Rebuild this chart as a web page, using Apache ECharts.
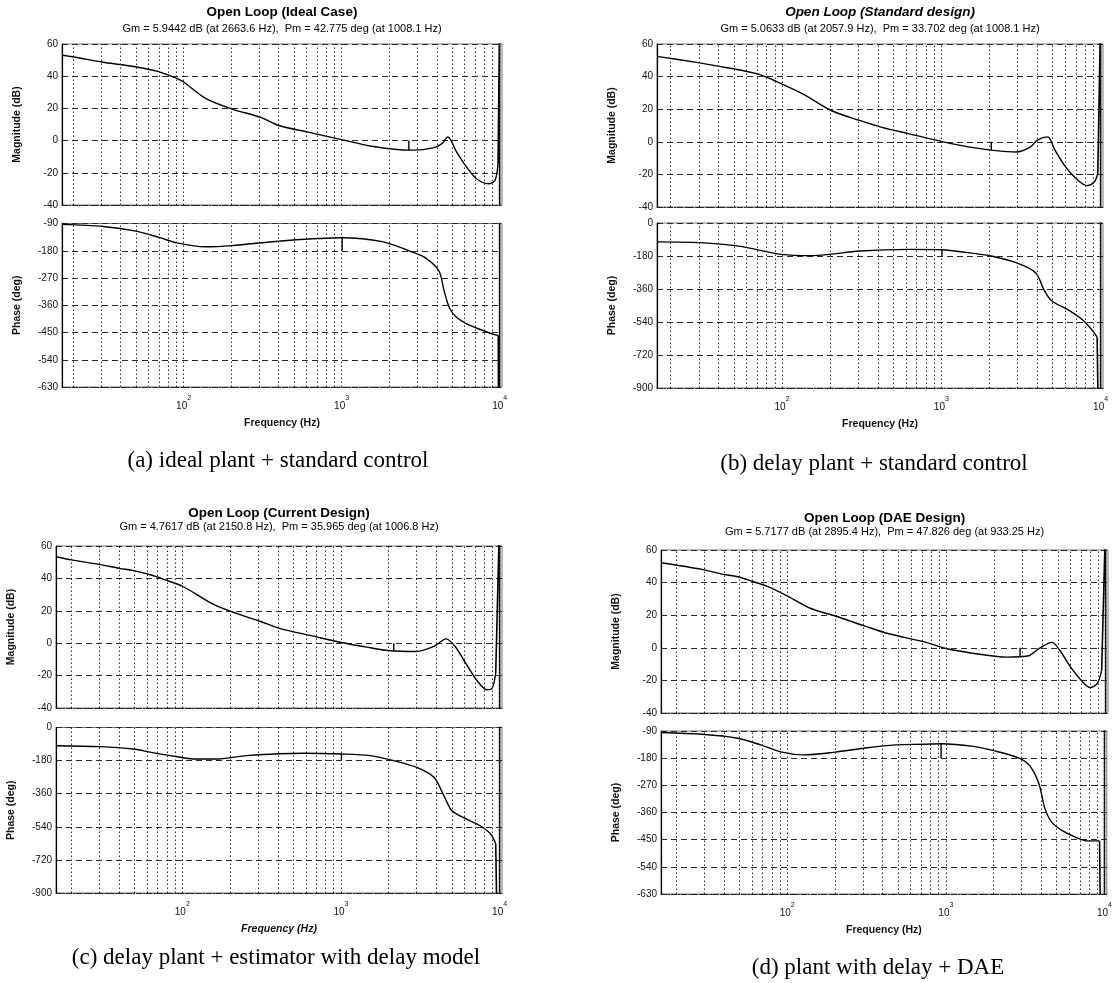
<!DOCTYPE html>
<html><head><meta charset="utf-8">
<script src="https://cdn.jsdelivr.net/npm/echarts@6/dist/echarts.min.js"></script>
<style>html,body{margin:0;padding:0;background:#fff}#c{width:1115px;height:983px}</style>
</head><body><div id="c"></div>
<script>
// ---------- DATA ----------
const gridFreqs = [20,30,40,50,60,70,80,90,100,200,300,400,500,600,700,800,900,1000,2000,3000,4000,5000,6000,7000,8000,9000,10000];

// (a) Ideal Case
const aMagFreq = [17,20.5,30.9,41,50.4,68.7,78.1,91.1,100,137.6,202.5,305.9,406,613,1000,1549,2339,2838,3800,4297,4700,5345,6180,7140,8465,9340,9770,10000,10000];
const aMagDb   = [53,51.8,48.7,47.1,45.7,43,41.1,38.5,36.4,26.2,19.6,14.5,9.2,5.3,0.6,-3.5,-5.7,-5.9,-4.5,-2.0,2.2,-7.2,-16.5,-23.7,-26.8,-24.8,-14.4,80,-80];
const aPhFreq  = [17,31,50,70,91,137,202,428,1000,1808,2730,3357,4122,4456,4810,5333,6223,8474,9398,9800,10000,10000];
const aPhDeg   = [-93,-100,-115,-136,-154,-167,-163,-147,-137,-150,-182,-202,-246,-313,-368,-400,-422,-450,-458,-460,-2000,100];

// (b) Standard design
const bMagFreq = [16.4,30.4,41.3,59.2,72.7,89.3,134.7,203,307,418,630,1000,1510,2054,2944,3615,4008,4650,5176,6040,7230,8225,9120,9600,10000,10000];
const bMagDb   = [52.4,48.4,46.1,43.3,41.2,37.6,29.4,19.2,13.1,9,4.9,0.3,-3.3,-5.1,-6.3,-3.3,1.0,3.0,-5.3,-15.5,-23.7,-26.9,-24.7,-19.6,80,-80];
const bPhFreq  = [16.4,30.4,53.5,99,157,307,630,1000,1761,2054,2944,3906,4440,4920,6365,7815,8890,9510,10000,10000];
const bPhDeg   = [-103,-107,-126,-171,-178,-153,-144,-146,-171,-180,-216,-271,-370,-424,-478,-533,-587,-623,-2000,100];

// (c) Current Design
const cMagFreq = [16,20.1,30.3,40.1,49.3,63.7,78.2,101,152.3,201.9,312,425,640,1005,1531,1977,2980,3853,4600,5240,6110,7130,8310,8980,9450,10000,10000];
const cMagDb   = [53.4,51.4,48.5,46.2,44.8,42.1,39.1,35,24.7,19.6,13.4,8.7,4.8,0.4,-2.8,-4.5,-5.1,-2,2.7,-2,-12.3,-22.5,-28.7,-27.7,-18.4,80,-80];
const cPhFreq  = [16,30.3,49.3,63.7,91.2,117.8,168.6,254,577,1005,1531,2150,2980,3853,4497,4980,6110,7500,8750,9450,10000,10000];
const cPhDeg   = [-99,-104,-117,-135,-158,-171,-171,-153,-140,-144,-153,-180,-216,-271,-379,-451,-496,-533,-578,-632,-2000,100];

// (d) DAE Design
const dMagFreq = [16,29,38.6,48.6,61.3,75.3,100,140,200,246,303,434,726,990,1656,2376,3236,3874,4600,5145,6010,7014,7980,8840,9445,10000,10000];
const dMagDb   = [52.2,48.1,45.2,43.6,40.5,37.5,31.7,24.1,19.5,16.5,13.5,8.6,3.6,-0.4,-4.1,-5.7,-5,0,3.3,-1.5,-11.7,-19.9,-24.4,-22,-13.8,80,-80];
const dPhFreq  = [16,29,48.6,68,92.6,126,200,303,481,726,933,1494,2036,2895,3405,3874,4188,4640,5420,6655,7770,9310,10000,10000];
const dPhDeg   = [-95,-101,-114,-136,-160,-169,-160,-147,-136,-134,-132,-141,-156,-180,-207,-267,-343,-392,-420,-443,-454,-454,-2000,100];

const titles    = ['Open Loop (Ideal Case)','Open Loop (Standard design)','Open Loop (Current Design)','Open Loop (DAE Design)'];
const gmDb      = ['5.9442','5.0633','4.7617','5.7177'];
const gmHz      = ['2663.6','2057.9','2150.8','2895.4'];
const pmDeg     = ['42.775','33.702','35.965','47.826'];
const pmHz      = ['1008.1','1008.1','1006.8','933.25'];
const captions  = ['(a) ideal plant + standard control','(b) delay plant + standard control','(c) delay plant + estimator with delay model','(d) plant with delay + DAE'];
const phaseMin  = [-630,-900,-900,-630];
const phaseMax  = [-90,0,0,-90];
const phaseStep = [90,180,180,90];
const magMin = -40, magMax = 60, magStep = 20;
const freqMin = [17,16.4,16,16];
const freqMax = 10350;

// ---------- LAYOUT ----------
const layout = [
  {left:62, width:440, magTop:44, magH:161, phTop:223.5, phH:163.5, titleY:12, subY:29, capX:278, capY:461, italicTitle:false, italicX:false},
  {left:657,width:446, magTop:44, magH:163, phTop:223, phH:165, titleY:12, subY:29, capX:874, capY:464, italicTitle:true, italicX:false},
  {left:56, width:446, magTop:546,magH:162, phTop:727.5, phH:165.5, titleY:513, subY:527, capX:276, capY:958, italicTitle:false, italicX:true},
  {left:661,width:447, magTop:550,magH:163, phTop:731, phH:163, titleY:518, subY:532, capX:878, capY:968, italicTitle:false, italicX:false}
];
const mags = [[aMagFreq,aMagDb],[bMagFreq,bMagDb],[cMagFreq,cMagDb],[dMagFreq,dMagDb]];
const phs  = [[aPhFreq,aPhDeg],[bPhFreq,bPhDeg],[cPhFreq,cPhDeg],[dPhFreq,dPhDeg]];

const FONT = '"Liberation Sans", Arial, sans-serif';
const zip = (x,y) => x.map((v,i)=>[v,y[i]]);
const grids=[], xAxes=[], yAxes=[], series=[], graphics=[];

const vLines = {
  silent:true, symbol:['none','none'], animation:false, label:{show:false},
  lineStyle:{color:'#2a2a2a', width:1, type:[1.5,2.5]},
  data: gridFreqs.map(f=>({xAxis:f}))
};
const xlabelFmt = v => { const l=Math.log10(v), r=Math.round(l); return Math.abs(l-r)<1e-6 ? '{b|10}{s|'+r+'}' : ''; };

layout.forEach((L,p)=>{
  const subs = [
    {top:L.magTop, h:L.magH, min:magMin, max:magMax, step:magStep, name:'Magnitude (dB)', data:zip(mags[p][0],mags[p][1]), isPh:false},
    {top:L.phTop, h:L.phH, min:phaseMin[p], max:phaseMax[p], step:phaseStep[p], name:'Phase (deg)', data:zip(phs[p][0],phs[p][1]), isPh:true}
  ];
  subs.forEach(s=>{
    const gi = grids.length;
    grids.push({left:L.left, top:s.top, width:L.width, height:s.h, show:true, borderColor:'#777', borderWidth:1, containLabel:false});
    xAxes.push({
      type:'log', logBase:10, gridIndex:gi, min:freqMin[p], max:freqMax,
      splitLine:{show:false}, axisTick:{show:false}, minorTick:{show:false},
      axisLine:{show:true, onZero:false, lineStyle:{color:'#222', width:1, type:[1.5,2]}},
      axisLabel:{show:s.isPh, formatter:xlabelFmt, margin:8, showMinLabel:false, showMaxLabel:false,
        rich:{b:{fontSize:10, fontFamily:FONT, color:'#111', lineHeight:16, verticalAlign:'bottom'},
              s:{fontSize:7, fontFamily:FONT, color:'#111', lineHeight:8, verticalAlign:'top'}}},
      name: s.isPh ? 'Frequency (Hz)' : '', nameLocation:'middle', nameGap:31,
      nameTextStyle:{fontSize:10.5, fontWeight:'bold', fontFamily:FONT, color:'#111', fontStyle: L.italicX ? 'italic':'normal'}
    });
    yAxes.push({
      type:'value', gridIndex:gi, min:s.min, max:s.max, interval:s.step,
      axisLine:{show:true, onZero:false, lineStyle:{color:'#000', width:1.2}},
      axisTick:{show:false},
      axisLabel:{fontSize:10, fontFamily:FONT, color:'#111', margin:4},
      splitLine:{show:true, lineStyle:{color:'#2a2a2a', width:1, type:[6,4]}},
      name:s.name, nameLocation:'middle', nameRotate:90, nameGap:39,
      nameTextStyle:{fontSize:10.5, fontWeight:'bold', fontFamily:FONT, color:'#111'}
    });
    const n = s.data.length;
    series.push({
      type:'line', xAxisIndex:gi, yAxisIndex:gi, data:s.data.slice(0,n-2), showSymbol:false, symbol:'none',
      smooth:0.3, clip:true, animation:false, silent:true,
      lineStyle:{color:'#000', width:1.4}, markLine:vLines
    });
    // the curve running off the axes at the end of the frequency range
    series.push({
      type:'line', xAxisIndex:gi, yAxisIndex:gi, data:s.data.slice(n-3), showSymbol:false, symbol:'none',
      clip:true, animation:false, silent:true, lineStyle:{color:'#000', width:1.6}
    });
    // margin marker (Gm on magnitude, Pm on phase)
    const mk = s.isPh
      ? [[parseFloat(pmHz[p]), -180],[parseFloat(pmHz[p]), -180+parseFloat(pmDeg[p])]]
      : [[parseFloat(gmHz[p]), 0],[parseFloat(gmHz[p]), -parseFloat(gmDb[p])]];
    series.push({type:'line', xAxisIndex:gi, yAxisIndex:gi, data:mk, showSymbol:false, symbol:'none',
      animation:false, silent:true, lineStyle:{color:'#000', width:1.4}});
  });
  const cx = L.left + L.width/2;
  graphics.push({type:'text', x:cx, y:L.titleY, style:{text:titles[p], fill:'#000',
      font:(L.italicTitle?'italic ':'')+'bold 13.5px '+FONT, textAlign:'center', textVerticalAlign:'middle', align:'center', verticalAlign:'middle'}});
  graphics.push({type:'text', x:cx, y:L.subY, style:{text:'Gm = '+gmDb[p]+' dB (at '+gmHz[p]+' Hz),  Pm = '+pmDeg[p]+' deg (at '+pmHz[p]+' Hz)', fill:'#000',
      font:'11px '+FONT, textAlign:'center', textVerticalAlign:'middle', align:'center', verticalAlign:'middle'}});
  graphics.push({type:'text', x:L.capX, y:L.capY, style:{text:captions[p], fill:'#000',
      font:'23px "Liberation Serif", "Times New Roman", serif', textAlign:'center', textVerticalAlign:'middle', align:'center', verticalAlign:'middle'}});
});

const chart = echarts.init(document.getElementById('c'), null, {renderer:'canvas'});
chart.setOption({
  animation:false, backgroundColor:'#fff',
  grid:grids, xAxis:xAxes, yAxis:yAxes, series:series, graphic:graphics
});
</script></body></html>
